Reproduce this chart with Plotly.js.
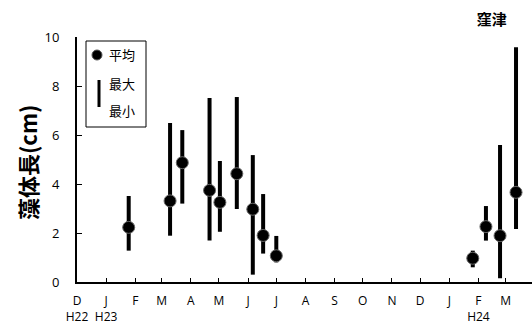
<!DOCTYPE html>
<html>
<head>
<meta charset="utf-8">
<script src="https://cdn.plot.ly/plotly-3.0.1.min.js"></script>
<style>html,body{margin:0;padding:0;background:#fff;}#chart{width:532px;height:324px;}</style>
</head>
<body>
<div id="chart"></div>
<script>
// Sampling dates
const dates = ['2011-01-25','2011-03-10','2011-03-23','2011-04-21','2011-05-02','2011-05-20',
               '2011-06-06','2011-06-17','2011-07-01','2012-01-26','2012-02-09','2012-02-24','2012-03-12'];
// Mean, max, min frond length (cm)
const meanVals = [2.23, 3.31, 4.87, 3.74, 3.25, 4.42, 2.97, 1.90, 1.07, 0.97, 2.26, 1.89, 3.66];
const maxVals  = [3.51, 6.49, 6.20, 7.51, 4.94, 7.55, 5.18, 3.59, 1.88, 1.28, 3.10, 5.59, 9.58];
const minVals  = [1.28, 1.89, 3.20, 1.69, 2.05, 2.98, 0.30, 1.16, 0.80, 0.60, 1.69, 0.15, 2.16];
// Month ticks
const tickDates = ['2010-12-01','2011-01-01','2011-02-01','2011-03-01','2011-04-01','2011-05-01',
                   '2011-06-01','2011-07-01','2011-08-01','2011-09-01','2011-10-01','2011-11-01',
                   '2011-12-01','2012-01-01','2012-02-01','2012-03-01'];
const tickLabels = ['D<br>H22','J<br>H23','F','M','A','M','J','J','A','S','O','N','D','J','F<br>H24','M'];
const yTicks = [0,2,4,6,8,10];

const upper = maxVals.map((v,i)=>v-meanVals[i]);
const lower = meanVals.map((v,i)=>v-minVals[i]);

const trace = {
  x: dates, y: meanVals, type: 'scatter', mode: 'markers',
  marker: {color: '#000', size: 12, line: {color: '#666', width: 1}},
  error_y: {type: 'data', symmetric: false, array: upper, arrayminus: lower,
            color: '#000', thickness: 4, width: 0},
  showlegend: false, hoverinfo: 'none'
};

const W = 532, H = 324, L = 77, R = 0, T = 37, B = 42;
const pw = W - L - R, ph = H - T - B;
const px = x => (x - L) / pw;
const py = y => (H - B - y) / ph;

const jp = '"Noto Sans CJK JP", "Noto Sans", sans-serif';

const layout = {
  width: W, height: H,
  margin: {l: L, r: R, t: T, b: B, pad: 0},
  paper_bgcolor: '#fff', plot_bgcolor: '#fff',
  font: {family: '"Open Sans", "Noto Sans", sans-serif', size: 13, color: '#000'},
  title: {text: '<b>窪津</b>', font: {family: jp, size: 15, color: '#000'},
          x: 485 / W, xanchor: 'center', y: 1 - 20 / H, yanchor: 'middle', xref: 'paper', yref: 'container'},
  xaxis: {
    type: 'date', range: ['2010-12-01', '2012-03-29'],
    tickmode: 'array', tickvals: tickDates, ticktext: tickLabels,
    ticks: 'inside', ticklen: 4, tickwidth: 1, tickcolor: '#000',
    showline: true, linecolor: '#000', linewidth: 2,
    showgrid: false, zeroline: false, ticklabelstandoff: 7,
    tickfont: {size: 12}
  },
  yaxis: {
    range: [0, 10], tickmode: 'array', tickvals: yTicks,
    ticks: 'inside', ticklen: 5, tickwidth: 1, tickcolor: '#000',
    showline: true, linecolor: '#000', linewidth: 2,
    showgrid: false, zeroline: false, ticklabelstandoff: 13,
    tickfont: {size: 13}
  },
  shapes: [
    {type: 'rect', xref: 'paper', yref: 'paper', x0: px(86), x1: px(146), y0: py(127), y1: py(41),
     line: {color: '#000', width: 1}, fillcolor: '#fff'},
    {type: 'circle', xref: 'paper', yref: 'paper', x0: px(92), x1: px(102), y0: py(60), y1: py(50),
     line: {color: '#555', width: 1}, fillcolor: '#000'},
    {type: 'line', xref: 'paper', yref: 'paper', x0: px(99), x1: px(99), y0: py(107), y1: py(80),
     line: {color: '#000', width: 3}}
  ],
  annotations: [
    {text: '平均', xref: 'paper', yref: 'paper', x: px(122), y: py(54), showarrow: false,
     font: {family: jp, size: 13}, xanchor: 'center', yanchor: 'middle'},
    {text: '最大', xref: 'paper', yref: 'paper', x: px(122), y: py(83), showarrow: false,
     font: {family: jp, size: 13}, xanchor: 'center', yanchor: 'middle'},
    {text: '最小', xref: 'paper', yref: 'paper', x: px(122), y: py(111), showarrow: false,
     font: {family: jp, size: 13}, xanchor: 'center', yanchor: 'middle'},
    {text: '<b>藻体長(cm)</b>', xref: 'paper', yref: 'paper', x: px(27), y: py(163), showarrow: false,
     textangle: -90, font: {family: jp, size: 22}, xanchor: 'center', yanchor: 'middle'}
  ]
};

Plotly.newPlot('chart', [trace], layout, {staticPlot: true, displayModeBar: false});
</script>
</body>
</html>
